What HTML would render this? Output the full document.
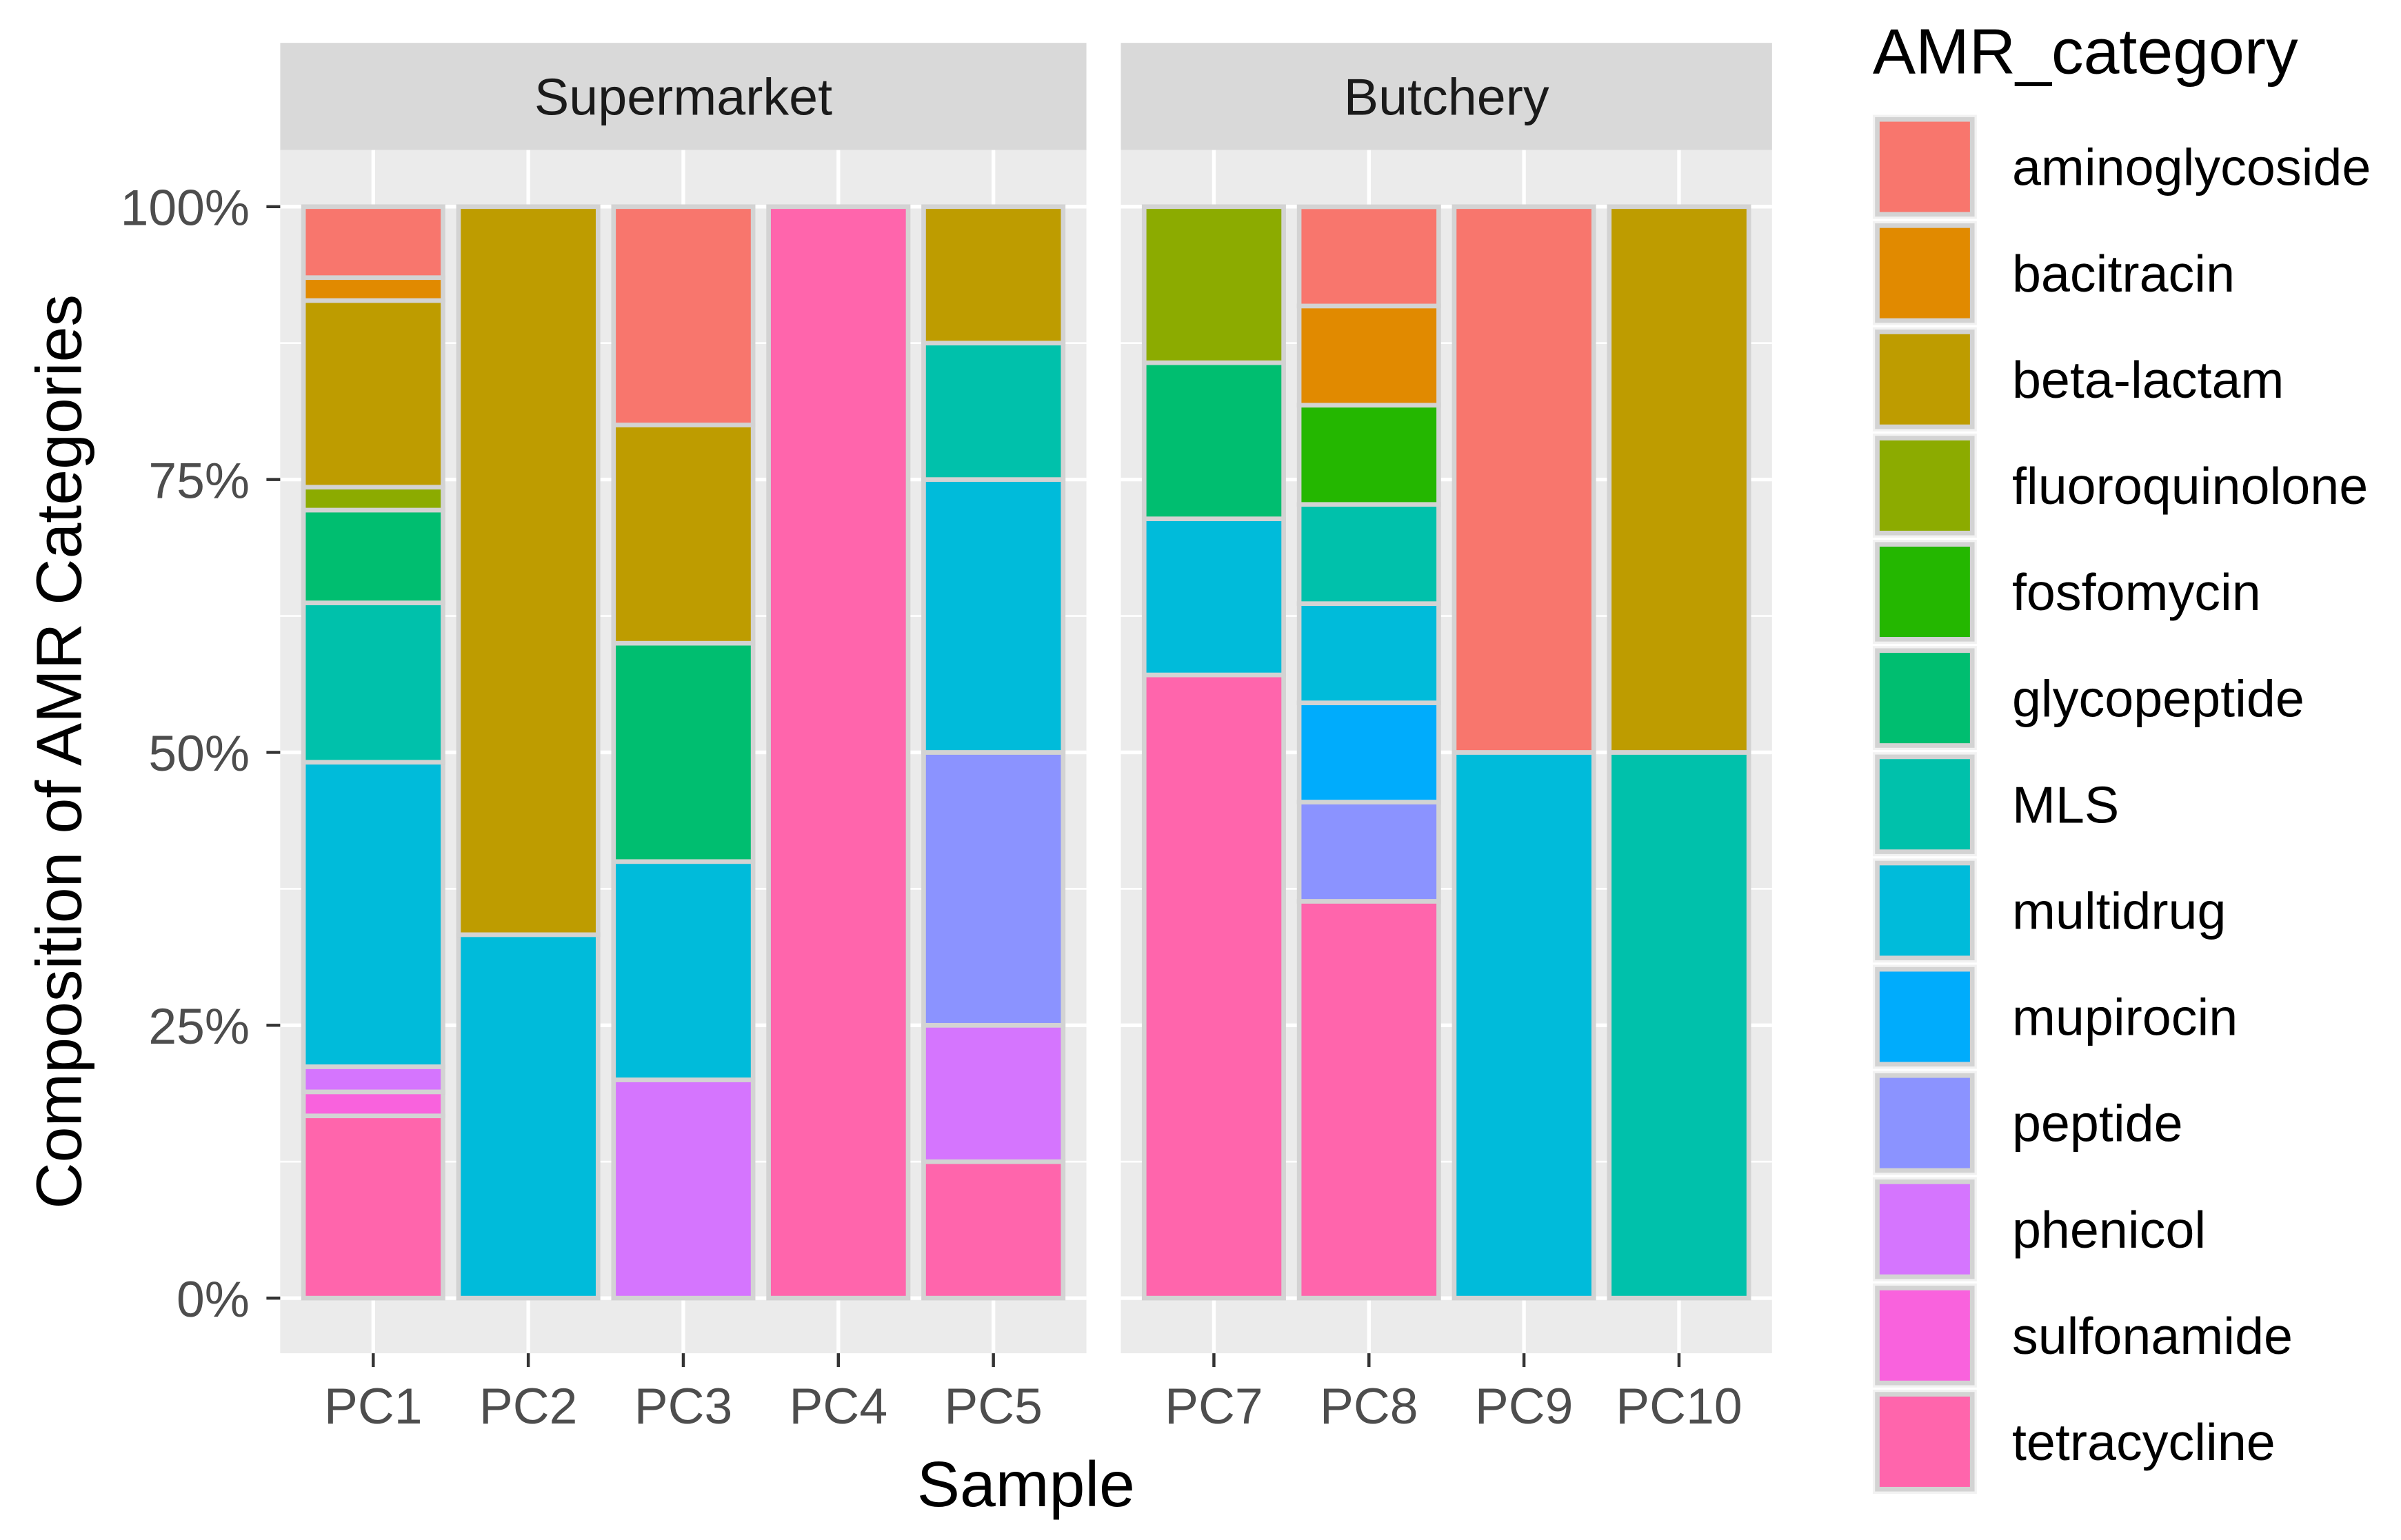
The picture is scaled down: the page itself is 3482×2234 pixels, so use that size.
<!DOCTYPE html>
<html><head><meta charset="utf-8"><style>
html,body{margin:0;padding:0;background:#fff;}
svg{display:block;font-family:"Liberation Sans",Arial,sans-serif;}
</style></head><body>
<svg id="chart" width="3482" height="2234" viewBox="0 0 1568 1006" preserveAspectRatio="none" xmlns="http://www.w3.org/2000/svg"></svg>
<script>
const categories = ["aminoglycoside","bacitracin","beta-lactam","fluoroquinolone","fosfomycin","glycopeptide","MLS","multidrug","mupirocin","peptide","phenicol","sulfonamide","tetracycline"];
const colors = ["#F8766D","#E18A00","#BE9C00","#8CAB00","#24B700","#00BE70","#00C1AB","#00BBDA","#00ACFC","#8B93FF","#D575FE","#F962DD","#FF65AC"];
const supermarketSamples = ["PC1","PC2","PC3","PC4","PC5"];
const butcherySamples = ["PC7","PC8","PC9","PC10"];
const valuesPC1 = [6.5,2.1,17.1,2.1,0,8.5,14.6,27.9,0,0,2.3,2.2,16.7];
const valuesPC2 = [0,0,66.7,0,0,0,0,33.3,0,0,0,0,0];
const valuesPC3 = [20,0,20,0,0,20,0,20,0,0,20,0,0];
const valuesPC4 = [0,0,0,0,0,0,0,0,0,0,0,0,100];
const valuesPC5 = [0,0,12.5,0,0,0,12.5,25,0,25,12.5,0,12.5];
const valuesPC7 = [0,0,0,14.3,0,14.3,0,14.3,0,0,0,0,57.1];
const valuesPC8 = [9.09,9.09,0,0,9.09,0,9.09,9.09,9.09,9.09,0,0,36.36];
const valuesPC9 = [50,0,0,0,0,0,0,50,0,0,0,0,0];
const valuesPC10 = [0,0,50,0,0,0,50,0,0,0,0,0,0];
const yTicks = [0,25,50,75,100];
const yTickLabels = ["0%","25%","50%","75%","100%"];

const sampleValues = {PC1:valuesPC1,PC2:valuesPC2,PC3:valuesPC3,PC4:valuesPC4,PC5:valuesPC5,PC7:valuesPC7,PC8:valuesPC8,PC9:valuesPC9,PC10:valuesPC10};
const svg = document.getElementById('chart');
const NS = "http://www.w3.org/2000/svg";
function mk(tag, attrs, parent){const e=document.createElementNS(NS,tag);for(const k in attrs)e.setAttribute(k,attrs[k]);(parent||svg).appendChild(e);return e;}
const Y0=848, Y1=135;
function yScale(v){return Y0-(v/100)*(Y0-Y1);}
const unit=101.25, pTop=98, pBot=884;

function panel(name, x0, samples){
  const w=(samples.length-1+1.2)*unit;
  const g=mk('g',{});
  
  
  const bg=mk('rect',{x:x0,y:pTop,width:w,height:pBot-pTop,fill:'#EBEBEB'},g);
  
  
  const strip=mk('rect',{x:x0,y:28,width:w,height:70,fill:'#D9D9D9'},g);
  
  
  const st=mk('text',{x:x0+w/2,y:75,'text-anchor':'middle','font-size':34,fill:'#1A1A1A'},g);
  st.textContent = name==='supermarket'?'Supermarket':'Butchery';
  
  
  for(let i=0;i<yTicks.length-1;i++){const v=(yTicks[i]+yTicks[i+1])/2;
    mk('line',{x1:x0,x2:x0+w,y1:yScale(v),y2:yScale(v),stroke:'#fff','stroke-width':1.2},g);}
  yTicks.forEach(v=>{mk('line',{x1:x0,x2:x0+w,y1:yScale(v),y2:yScale(v),stroke:'#fff','stroke-width':2.4},g);});
  samples.forEach((s,i)=>{
    const cx=x0+0.6*unit+i*unit;
    mk('line',{x1:cx,x2:cx,y1:pTop,y2:pBot,stroke:'#fff','stroke-width':2.4},g);
  });
  samples.forEach((s,i)=>{
    const cx=x0+0.6*unit+i*unit;
    const vals=sampleValues[s];
    let cum=0;
    for(let c=categories.length-1;c>=0;c--){
      const v=vals[c]; if(!v) continue;
      const yb=yScale(cum), yt=yScale(cum+v); cum+=v;
      const r=mk('rect',{x:cx-0.45*unit,y:yt,width:0.9*unit,height:yb-yt,fill:colors[c],stroke:'#D3D3D3','stroke-width':3},g);
      
      
    }
    mk('line',{x1:cx,x2:cx,y1:pBot,y2:pBot+9,stroke:'#333','stroke-width':2},g);
    const t=mk('text',{x:cx,y:930,'text-anchor':'middle','font-size':33,fill:'#4D4D4D'},g);
    t.textContent=s;
    
    
  });
}
panel('supermarket',183,supermarketSamples);
panel('butchery',732,butcherySamples);

yTicks.forEach((v,i)=>{
  mk('line',{x1:174,x2:183,y1:yScale(v),y2:yScale(v),stroke:'#333','stroke-width':2});
  const t=mk('text',{x:163,y:yScale(v)+12,'text-anchor':'end','font-size':33,fill:'#4D4D4D'});
  t.textContent=yTickLabels[i];
  
  
});
const xt=mk('text',{x:670,y:984,'text-anchor':'middle','font-size':42,fill:'#000'});
xt.textContent='Sample';


const yt=mk('text',{x:0,y:0,'text-anchor':'middle','font-size':42,fill:'#000',transform:'translate(53,491) rotate(-90)'});
yt.textContent='Composition of AMR Categories';



const lt=mk('text',{x:1223,y:48,'font-size':42,fill:'#000'});
lt.textContent='AMR_category';


categories.forEach((c,i)=>{
  const y=75+i*69.4;
  const g=mk('g',{});
  
  
  mk('rect',{x:1223,y:y,width:68,height:68,fill:'#F2F2F2'},g);
  mk('rect',{x:1226,y:y+3,width:62,height:62,fill:colors[i],stroke:'#D3D3D3','stroke-width':3},g);
  const t=mk('text',{x:1314,y:y+46,'font-size':34,fill:'#000'},g);
  t.textContent=c;
});
</script>
</body></html>
